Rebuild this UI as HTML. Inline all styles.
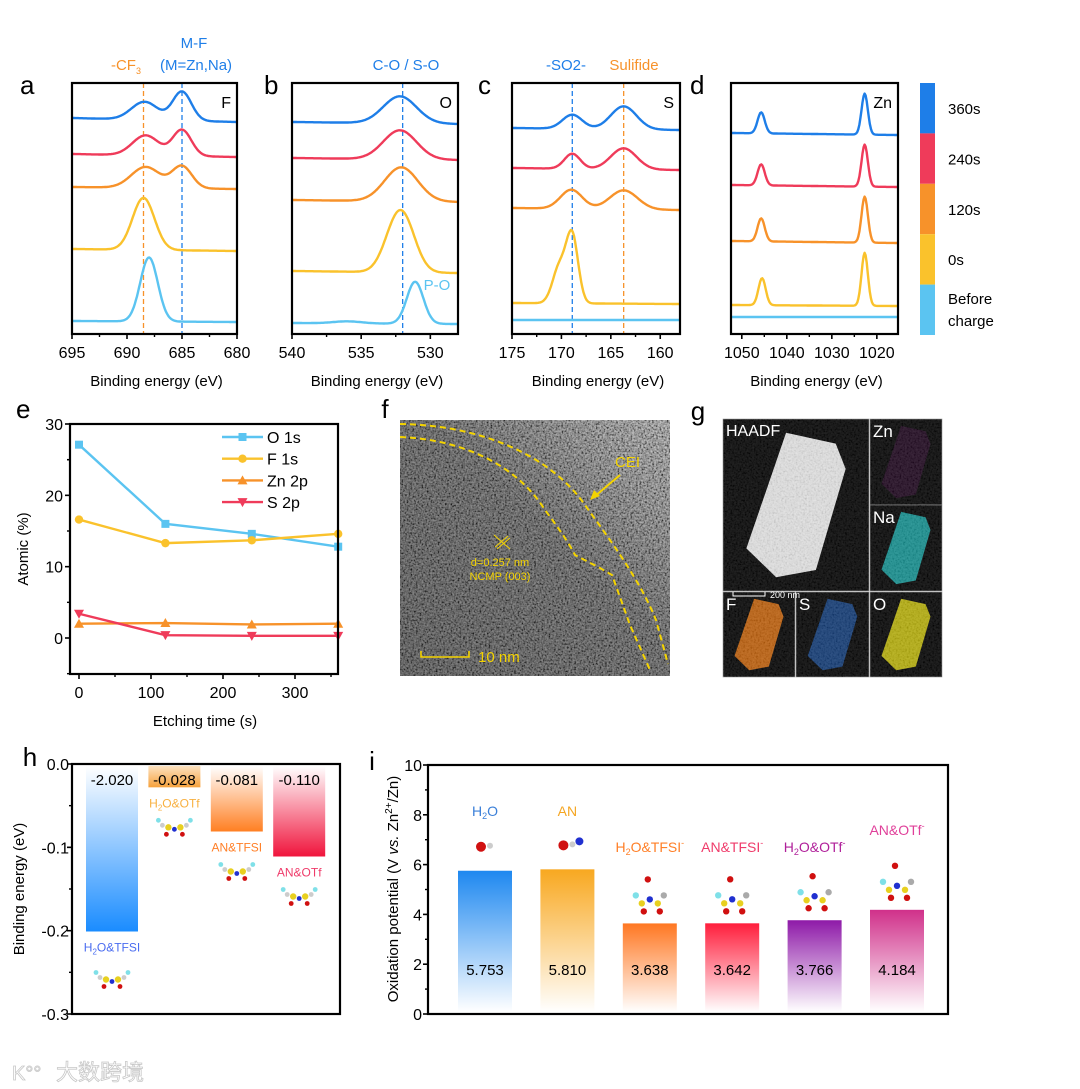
<!DOCTYPE html>
<html><head><meta charset="utf-8">
<style>
html,body{margin:0;padding:0;background:#fff;}
svg{display:block;font-family:"Liberation Sans","Noto Sans CJK SC",sans-serif;}
</style></head>
<body>
<svg id="fig" width="1080" height="1089" viewBox="0 0 1080 1089" xmlns="http://www.w3.org/2000/svg">
<defs>
  <filter id="noiseF" x="0" y="0" width="100%" height="100%">
    <feTurbulence type="fractalNoise" baseFrequency="0.55" numOctaves="2" seed="3"/>
    <feColorMatrix type="matrix" values="1.8 0 0 0 -0.45  1.8 0 0 0 -0.45  1.8 0 0 0 -0.45  0 0 0 0 1"/>
  </filter>
  <linearGradient id="fGrad" x1="0" y1="1" x2="1" y2="0">
    <stop offset="0" stop-color="#3e3e3e"/><stop offset="0.55" stop-color="#4a4a4a"/><stop offset="0.8" stop-color="#6e6e6e"/><stop offset="1" stop-color="#858585"/>
  </linearGradient>
  <linearGradient id="hg0" x1="0" y1="0" x2="0" y2="1"><stop offset="0" stop-color="#fff"/><stop offset="1" stop-color="#1a8cff"/></linearGradient>
  <linearGradient id="hg1" x1="0" y1="0" x2="0" y2="1"><stop offset="0" stop-color="#fde2c0"/><stop offset="1" stop-color="#f6a13c"/></linearGradient>
  <linearGradient id="hg2" x1="0" y1="0" x2="0" y2="1"><stop offset="0" stop-color="#fff"/><stop offset="1" stop-color="#ff7f22"/></linearGradient>
  <linearGradient id="hg3" x1="0" y1="0" x2="0" y2="1"><stop offset="0" stop-color="#fff"/><stop offset="1" stop-color="#f0143c"/></linearGradient>
  <linearGradient id="ig0" x1="0" y1="0" x2="0" y2="1"><stop offset="0" stop-color="#1e88f0"/><stop offset="1" stop-color="#fff"/></linearGradient>
  <linearGradient id="ig1" x1="0" y1="0" x2="0" y2="1"><stop offset="0" stop-color="#f8a820"/><stop offset="1" stop-color="#fff"/></linearGradient>
  <linearGradient id="ig2" x1="0" y1="0" x2="0" y2="1"><stop offset="0" stop-color="#ff7722"/><stop offset="1" stop-color="#fff"/></linearGradient>
  <linearGradient id="ig3" x1="0" y1="0" x2="0" y2="1"><stop offset="0" stop-color="#ff1e3c"/><stop offset="1" stop-color="#fff"/></linearGradient>
  <linearGradient id="ig4" x1="0" y1="0" x2="0" y2="1"><stop offset="0" stop-color="#8e1aa8"/><stop offset="1" stop-color="#fff"/></linearGradient>
  <linearGradient id="ig5" x1="0" y1="0" x2="0" y2="1"><stop offset="0" stop-color="#d0308a"/><stop offset="1" stop-color="#fff"/></linearGradient>
</defs>
<g id="root"></g>
</svg>
<script>
// ---------- data: XPS spectra (order: 360s, 240s, 120s, 0s, before charge) ----------
const seriesLabels = ["360s","240s","120s","0s","Before charge"];
const aBase = [[216,212],[180,177],[147,145],[85,83],[13,12]];
const aPeaks = [[[688.4,18,1.2],[685.0,29,0.85]],[[688.3,20,1.2],[685.0,26,0.85]],[[688.3,21,1.3],[685.0,22,0.9]],[[688.5,52,1.0]],[[688.0,64,0.8]]];
const bBase = [[212,210],[176,174],[134,132],[63,61],[11,10]];
const bPeaks = [[[532.2,27,1.2]],[[532.2,29,1.2]],[[532.1,34,1.2]],[[532.0,54,0.9],[532.9,14,0.8]],[[531.1,42,0.6],[536.0,2,1.0]]];
const cBase = [[206,204],[166,164],[126,124],[31,30],[14,14]];
const cPeaks = [[[168.9,14,1.0],[163.7,23,1.3]],[[168.9,15,0.8],[163.7,21,1.3]],[[169.0,19,1.1],[163.7,19,1.4]],[[168.9,66,0.6],[170.2,36,0.7]],[]];
const dBase = [[201,199],[149,147],[93,91],[29,28],[17,17]];
const dPeaks = [[[1045.7,21,0.8],[1022.7,41,0.7]],[[1045.7,21,0.8],[1022.7,42,0.7]],[[1045.7,23,0.8],[1022.7,46,0.7]],[[1045.5,27,0.8],[1022.7,53,0.7]],[]];
const aTicks=[695,690,685,680], bTicks=[540,535,530], cTicks=[175,170,165,160], dTicks=[1050,1040,1030,1020];
// ---------- data: panel e ----------
const eTimes=[0,120,240,360];
const eO=[27.1,16.0,14.6,12.8];
const eF=[16.6,13.3,13.7,14.6];
const eZn=[2.0,2.1,1.9,2.0];
const eS=[3.4,0.4,0.3,0.3];
const eXTicks=[0,100,200,300], eYTicks=[0,10,20,30];
// ---------- data: panel h ----------
const hCats=["H2O&TFSI","H2O&OTf","AN&TFSI","AN&OTf"];
const hVals=[-0.201,-0.028,-0.081,-0.111];
const hLabels=["-2.020","-0.028","-0.081","-0.110"];
const hYTicks=[0.0,-0.1,-0.2,-0.3];
// ---------- data: panel i ----------
const iCats=["H2O","AN","H2O&TFSI-","AN&TFSI-","H2O&OTf-","AN&OTf-"];
const iVals=[5.753,5.810,3.638,3.642,3.766,4.184];
const iLabels=["5.753","5.810","3.638","3.642","3.766","4.184"];
const iYTicks=[0,2,4,6,8,10];

const NS="http://www.w3.org/2000/svg";
const root=document.getElementById('root');
const COLORS=["#1e7ee8","#ef3b5a","#f7922a","#fac22c","#5bc4f1"];
function mk(tag,attrs,parent,txt){const e=document.createElementNS(NS,tag);for(const k in attrs)e.setAttribute(k,attrs[k]);if(txt!==undefined)e.textContent=txt;(parent||root).appendChild(e);return e;}
function lin(d0,d1,r0,r1){return v=>r0+(v-d0)/(d1-d0)*(r1-r0);}

// ---------- XPS panels ----------
const Y0=334, Y1=83;
function xpsPanel(id,px0,px1,dom0,dom1,base,peaks,ticks,letter,elem,dashes){
  const g=mk('g',{});
  
  
  const x=lin(dom0,dom1,px0,px1);
  const y=lin(0,251,Y0,Y1);
  dashes.forEach(dl=>{
    const l=mk('line',{x1:x(dl[0]),x2:x(dl[0]),y1:Y1,y2:Y0,stroke:dl[1],'stroke-width':1.3,'stroke-dasharray':'5,3'},g);
    
    
  });
  base.forEach((b,si)=>{
    let d='';const N=160;
    for(let k=0;k<=N;k++){
      const e=dom0+(dom1-dom0)*k/N;
      let v=b[0]+(b[1]-b[0])*k/N;
      peaks[si].forEach(p=>{v+=p[1]*Math.exp(-((e-p[0])**2)/(2*p[2]*p[2]));});
      d+=(k?'L':'M')+x(e).toFixed(1)+','+y(v).toFixed(1);
    }
    const p=mk('path',{d:d,fill:'none',stroke:COLORS[si],'stroke-width':2.4,'stroke-linejoin':'round'},g);
    
    
  });
  const fr=mk('rect',{x:px0,y:Y1,width:px1-px0,height:Y0-Y1,fill:'none',stroke:'#000','stroke-width':2.2},g);
  
  
  ticks.forEach((t,i)=>{
    mk('line',{x1:x(t),x2:x(t),y1:Y0,y2:Y0+5,stroke:'#000','stroke-width':1.6},g);
    const tl=mk('text',{x:x(t),y:Y0+24,'font-size':16,'text-anchor':'middle'},g,String(t));
    
    
    if(i<ticks.length-1){const m=(t+ticks[i+1])/2;mk('line',{x1:x(m),x2:x(m),y1:Y0,y2:Y0+3,stroke:'#000','stroke-width':1.4},g);}
  });
  const xt=mk('text',{x:(px0+px1)/2+2,y:386,'font-size':15,'text-anchor':'middle'},g,'Binding energy (eV)');
  
  
  const pl=mk('text',{x:letter[0],y:letter[1],'font-size':26},g,letter[2]);
  
  
  const el=mk('text',{x:px1-6,y:108,'font-size':16,'text-anchor':'end'},g,elem);
  
  
  return {g,x};
}
xpsPanel('a',72,237,695,680,aBase,aPeaks,aTicks,[20,94,'a'],'F',[[688.5,'#f7922a'],[685.0,'#1e7ee8']]);
xpsPanel('b',292,458,540,528,bBase,bPeaks,bTicks,[264,94,'b'],'O',[[532.0,'#1e7ee8']]);
xpsPanel('c',512,680,175,158,cBase,cPeaks,cTicks,[478,94,'c'],'S',[[168.9,'#1e7ee8'],[163.7,'#f7922a']]);
xpsPanel('d',731,898,1052.4,1015.3,dBase,dPeaks,dTicks,[690,94,'d'],'Zn',[]);

function txt(x,y,s,size,color,anchor,name){const t=mk('text',{x:x,y:y,'font-size':size,fill:color,'text-anchor':anchor||'middle'});t.textContent=s;return t;}
txt(194,48,'M-F',15,'#1e7ee8','middle','mf-annotation');
txt(196,70,'(M=Zn,Na)',15,'#1e7ee8','middle','mf-annotation-detail');
const cf=txt(126,70,'-CF',15,'#f7922a','middle','cf3-annotation');
mk('tspan',{'font-size':9,dy:4},cf,'3');
txt(406,70,'C-O / S-O',15,'#1e7ee8','middle','co-so-annotation');
txt(437,290,'P-O',15,'#5bc4f1','middle','po-annotation');
const so=txt(566,70,'-SO',15,'#1e7ee8','middle','so2-annotation');
mk('tspan',{},so,'2-');
txt(634,70,'Sulifide',15,'#f7922a','middle','sulfide-annotation');

seriesLabels.forEach((s,i)=>{
  const r=mk('rect',{x:920,y:83+i*50.4,width:15,height:50.4,fill:COLORS[i]});
  
  
  if(s==='Before charge'){
    txt(948,304,'Before',15,'#000','start','legend-label');
    txt(948,326,'charge',15,'#000','start','legend-label');
  } else txt(948,114+i*50.4,s,15,'#000','start','legend-label');
});

// ---------- panel e ----------
(function(){
  const X0=70,X1=338,T=424,B=674;
  const x=lin(0,360,79,338.2), y=lin(0,30,638,424);
  const g=mk('g',{});
  
  
  const series=[[eO,'#5bc4f1','sq','O 1s'],[eF,'#fac22c','ci','F 1s'],[eZn,'#f7922a','tu','Zn 2p'],[eS,'#ef3b5a','td','S 2p']];
  function marker(px,py,type,c,parent){
    let m;
    if(type==='sq') m=mk('rect',{x:px-4,y:py-4,width:8,height:8,fill:c},parent);
    else if(type==='ci') m=mk('circle',{cx:px,cy:py,r:4.2,fill:c},parent);
    else if(type==='tu') m=mk('path',{d:`M${px},${py-5}L${px+5},${py+4}L${px-5},${py+4}Z`,fill:c},parent);
    else m=mk('path',{d:`M${px},${py+5}L${px+5},${py-4}L${px-5},${py-4}Z`,fill:c},parent);
    
    
  }
  series.forEach((s,si)=>{
    const d=s[0].map((v,i)=>(i?'L':'M')+x(eTimes[i])+','+y(v)).join('');
    const p=mk('path',{d:d,fill:'none',stroke:s[1],'stroke-width':2.4},g);
    
    
    s[0].forEach((v,i)=>marker(x(eTimes[i]),y(v),s[2],s[1],g));
    const ly=437+si*21.7;
    mk('line',{x1:222,x2:263,y1:ly,y2:ly,stroke:s[1],'stroke-width':2.4},g);
    marker(242.5,ly,s[2],s[1],g);
    const lt=mk('text',{x:267,y:ly+6,'font-size':16},g,s[3]);
    
    
  });
  const fr=mk('rect',{x:X0,y:T,width:X1-X0,height:B-T,fill:'none',stroke:'#000','stroke-width':2.2},g);
  
  
  eYTicks.forEach(t=>{mk('line',{x1:X0,x2:X0-5,y1:y(t),y2:y(t),stroke:'#000','stroke-width':1.6},g);
    const tl=mk('text',{x:X0-7,y:y(t)+6,'font-size':16,'text-anchor':'end'},g,String(t));
    
    
    mk('line',{x1:X0,x2:X0-3,y1:y(t-5),y2:y(t-5),stroke:'#000','stroke-width':1.4},g);});
  mk('line',{x1:X0,x2:X0-3,y1:y(25),y2:y(25),stroke:'#000','stroke-width':1.4},g);
  eXTicks.forEach(t=>{mk('line',{x1:x(t),x2:x(t),y1:B,y2:B+5,stroke:'#000','stroke-width':1.6},g);
    const tl=mk('text',{x:x(t),y:B+24,'font-size':16,'text-anchor':'middle'},g,String(t));
    
    
    mk('line',{x1:x(t+50),x2:x(t+50),y1:B,y2:B+3,stroke:'#000','stroke-width':1.4},g);});
  txt(205,726,'Etching time (s)',15,'#000','middle','x-axis-title');
  const yt=txt(0,0,'Atomic (%)',15,'#000','middle','y-axis-title');
  yt.setAttribute('transform','translate(28,549) rotate(-90)');
  txt(28,418,'e',26,'#000','start','panel-letter').setAttribute('x',16);
})();

// ---------- panel f (TEM) ----------
(function(){
  const g=mk('g',{});
  
  
  mk('rect',{x:400,y:420,width:270,height:256,fill:'url(#fGrad)'},g);
  mk('rect',{x:400,y:420,width:270,height:256,filter:'url(#noiseF)',opacity:0.45,style:'mix-blend-mode:overlay'},g);
  mk('rect',{x:400,y:420,width:270,height:256,filter:'url(#noiseF)',opacity:0.25},g);
  const ds={fill:'none',stroke:'#f5d400','stroke-width':2,'stroke-dasharray':'6,4'};
  mk('path',Object.assign({d:'M400,424 C480,425 550,455 585,505 C610,540 640,580 656,620 L668,664'},ds),g);
  mk('path',Object.assign({d:'M400,437 C470,440 520,470 545,510 C560,530 570,545 575,555 L600,568 L612,575 L630,625 L650,670'},ds),g);
  mk('line',{x1:620,y1:475,x2:594,y2:497,stroke:'#f5d400','stroke-width':2},g);
  mk('path',{d:'M590,500 L594,490 L600,496 Z',fill:'#f5d400'},g);
  txt(615,467,'CEI',15,'#f5d400','start','cei-label');
  mk('line',{x1:495,y1:547,x2:508,y2:536,stroke:'#f5d400','stroke-width':1},g);
  mk('line',{x1:497,y1:549,x2:510,y2:538,stroke:'#f5d400','stroke-width':1},g);
  mk('line',{x1:494,y1:535,x2:510,y2:549,stroke:'#f5d400','stroke-width':1},g);
  txt(500,566,'d=0.257 nm',11,'#f5d400','middle','d-spacing-label');
  txt(500,580,'NCMP (003)',11,'#f5d400','middle','plane-label');
  mk('path',{d:'M421,651 L421,657 L469,657 L469,651',fill:'none',stroke:'#f5d400','stroke-width':1.6},g);
  txt(478,662,'10 nm',15,'#f5d400','start','scale-bar-label');
  txt(385,418,'f',26,'#000','middle','panel-letter');
})();

// ---------- panel g (EDS maps) ----------
(function(){
  const g=mk('g',{});
  
  
  const tiles=[[723,419,146,172,'HAADF','#e0e0e0',1],[870,419,72,86,'Zn','#8a1a8a',0.2],[870,505,72,86,'Na','#1bb0b0',0.8],
               [723,592,72,85,'F','#d06a10',0.9],[796,592,73,85,'S','#1e60c0',0.6],[870,592,72,85,'O','#c8c010',0.9]];
  tiles.forEach(t=>{
    mk('rect',{x:t[0],y:t[1],width:t[2],height:t[3],fill:'#050505',stroke:'#999','stroke-width':0.6},g);
    const cx=t[0]+t[2]/2, cy=t[1]+t[3]/2, sx=t[2]*0.34, sy=t[3]*0.42;
    const p=mk('path',{d:`M${cx-sx*0.2},${cy-sy} L${cx+sx*0.8},${cy-sy*0.85} L${cx+sx},${cy-sy*0.5} L${cx+sx*0.4},${cy+sy*0.9} L${cx-sx*0.4},${cy+sy} L${cx-sx},${cy+sy*0.6} Z`,fill:t[5],opacity:t[6]},g);
    
    
    mk('rect',{x:t[0],y:t[1],width:t[2],height:t[3],filter:'url(#noiseF)',opacity:0.12},g);
    txt(t[0]+3,t[1]+(t[4]==='HAADF'?17:18),t[4],t[4]==='HAADF'?16:17,'#fff','start','map-label');
  });
  mk('path',{d:'M733,592 L733,596 L765,596 L765,592',fill:'none',stroke:'#fff','stroke-width':1},g);
  txt(770,598,'200 nm',9,'#fff','start','scale-bar-label');
  txt(698,420,'g',26,'#000','middle','panel-letter');
})();

// ---------- panel h ----------
(function(){
  const X0=72,X1=340,T=764,B=1014;
  const y=lin(0,-0.3,T,B);
  const g=mk('g',{});
  
  
  const catColors=['#4a6cf0','#f8b040','#ff7f27','#ef3b6a'];
  hVals.forEach((v,i)=>{
    const bx=86+i*62.4;
    const r=mk('rect',{x:bx,y:y(0)+2,width:52,height:y(v)-y(0)-2,fill:'url(#hg'+i+')'},g);
    
    
    const vl=mk('text',{x:bx+26,y:785,'font-size':15,'text-anchor':'middle'},g,hLabels[i]);
    
    
    const cl=mk('text',{x:bx+26,y:y(v)+20,'font-size':12,'text-anchor':'middle',fill:catColors[i]},g);
    
    
    if(hCats[i].startsWith('H2O')){cl.appendChild(document.createTextNode('H'));mk('tspan',{'font-size':8,dy:3},cl,'2');mk('tspan',{dy:-3},cl,hCats[i].slice(2));}
    else cl.textContent=hCats[i];
    const my=y(v)+(i===0?46:38), mx=bx+26;
    [[-12,0,'#ccc',3],[-6,2,'#e8d020',4],[0,4,'#2030d0',3],[6,2,'#e8d020',4],[12,0,'#ccc',3],[-8,9,'#d01010',3],[8,9,'#d01010',3],[-16,-5,'#7fe0e8',3],[16,-5,'#7fe0e8',3]].forEach(a=>{
      mk('circle',{cx:mx+a[0],cy:my+a[1],r:a[3]*0.8,fill:a[2]},g);
    });
  });
  const fr=mk('rect',{x:X0,y:T,width:X1-X0,height:B-T,fill:'none',stroke:'#000','stroke-width':2.2},g);
  
  
  hYTicks.forEach((t,i)=>{mk('line',{x1:X0,x2:X0-5,y1:y(t),y2:y(t),stroke:'#000','stroke-width':1.6},g);
    const tl=mk('text',{x:X0-3,y:y(t)+6,'font-size':16,'text-anchor':'end'},g,t.toFixed(1));
    
    
    if(i<hYTicks.length-1) mk('line',{x1:X0,x2:X0-3,y1:y(t-0.05),y2:y(t-0.05),stroke:'#000','stroke-width':1.4},g);});
  const yt=txt(0,0,'Binding energy (eV)',15,'#000','middle','y-axis-title');
  yt.setAttribute('transform','translate(24,889) rotate(-90)');
  txt(30,766,'h',26,'#000','middle','panel-letter');
})();

// ---------- panel i ----------
(function(){
  const X0=428,X1=948,T=765,B=1014;
  const y=lin(0,10,B,T);
  const g=mk('g',{});
  
  
  const catColors=['#3a7fd8','#f5a623','#ff7f27','#ef3b6a','#b0209a','#e0409a'];
  const catY=[816,816,852,852,852,835];
  iVals.forEach((v,i)=>{
    const cx=485+i*82.4;
    const r=mk('rect',{x:cx-27,y:y(v),width:54,height:B-y(v)-2,fill:'url(#ig'+i+')'},g);
    
    
    const vl=mk('text',{x:cx,y:975,'font-size':15,'text-anchor':'middle'},g,iLabels[i]);
    
    
    const cl=mk('text',{x:cx,y:catY[i],'font-size':14,'text-anchor':'middle',fill:catColors[i]},g);
    
    
    let s=iCats[i], sup=s.endsWith('-');if(sup)s=s.slice(0,-1);
    if(s.startsWith('H2O')){cl.appendChild(document.createTextNode('H'));mk('tspan',{'font-size':9,dy:3},cl,'2');mk('tspan',{dy:-3},cl,s.slice(2));}
    else cl.appendChild(document.createTextNode(s));
    if(sup) mk('tspan',{'font-size':9,dy:-6},cl,'-');
    const my=y(v)-20;
    if(i<2){mk('circle',{cx:cx-4,cy:my-4,r:5,fill:'#d01010'},g);mk('circle',{cx:cx+5,cy:my-5,r:3,fill:'#ccc'},g);if(i===1)mk('circle',{cx:cx+12,cy:my-8,r:4,fill:'#2030d0'},g);}
    else [[-14,-8,'#7fe0e8'],[-8,0,'#e8d020'],[0,-4,'#2030d0'],[8,0,'#e8d020'],[-6,8,'#d01010'],[10,8,'#d01010'],[14,-8,'#aaa'],[-2,-24,'#d01010']].forEach(a=>mk('circle',{cx:cx+a[0],cy:my+a[1],r:3.2,fill:a[2]},g));
  });
  const fr=mk('rect',{x:X0,y:T,width:X1-X0,height:B-T,fill:'none',stroke:'#000','stroke-width':2.2},g);
  
  
  iYTicks.forEach((t,i)=>{mk('line',{x1:X0,x2:X0-5,y1:y(t),y2:y(t),stroke:'#000','stroke-width':1.6},g);
    const tl=mk('text',{x:X0-6,y:y(t)+6,'font-size':16,'text-anchor':'end'},g,String(t));
    
    
    if(i<iYTicks.length-1) mk('line',{x1:X0,x2:X0-3,y1:y(t+1),y2:y(t+1),stroke:'#000','stroke-width':1.4},g);});
  const yt=mk('text',{'font-size':15,'text-anchor':'middle',transform:'translate(398,889) rotate(-90)'},g);
  
  
  yt.appendChild(document.createTextNode('Oxidation potential (V '));
  mk('tspan',{'font-style':'italic'},yt,'vs.');
  yt.appendChild(document.createTextNode(' Zn'));
  mk('tspan',{'font-size':10,dy:-6},yt,'2+');
  mk('tspan',{dy:6},yt,'/Zn)');
  txt(372,770,'i',26,'#000','middle','panel-letter');
})();

const wm=txt(56,1080,'大数跨境',22,'#fff','start','watermark');
wm.setAttribute('stroke','#c8c8c8');wm.setAttribute('stroke-width','0.8');
const wl=txt(12,1080,'K°°',20,'#fff','start','watermark-logo');
wl.setAttribute('stroke','#c8c8c8');wl.setAttribute('stroke-width','0.8');
</script>
</body></html>
